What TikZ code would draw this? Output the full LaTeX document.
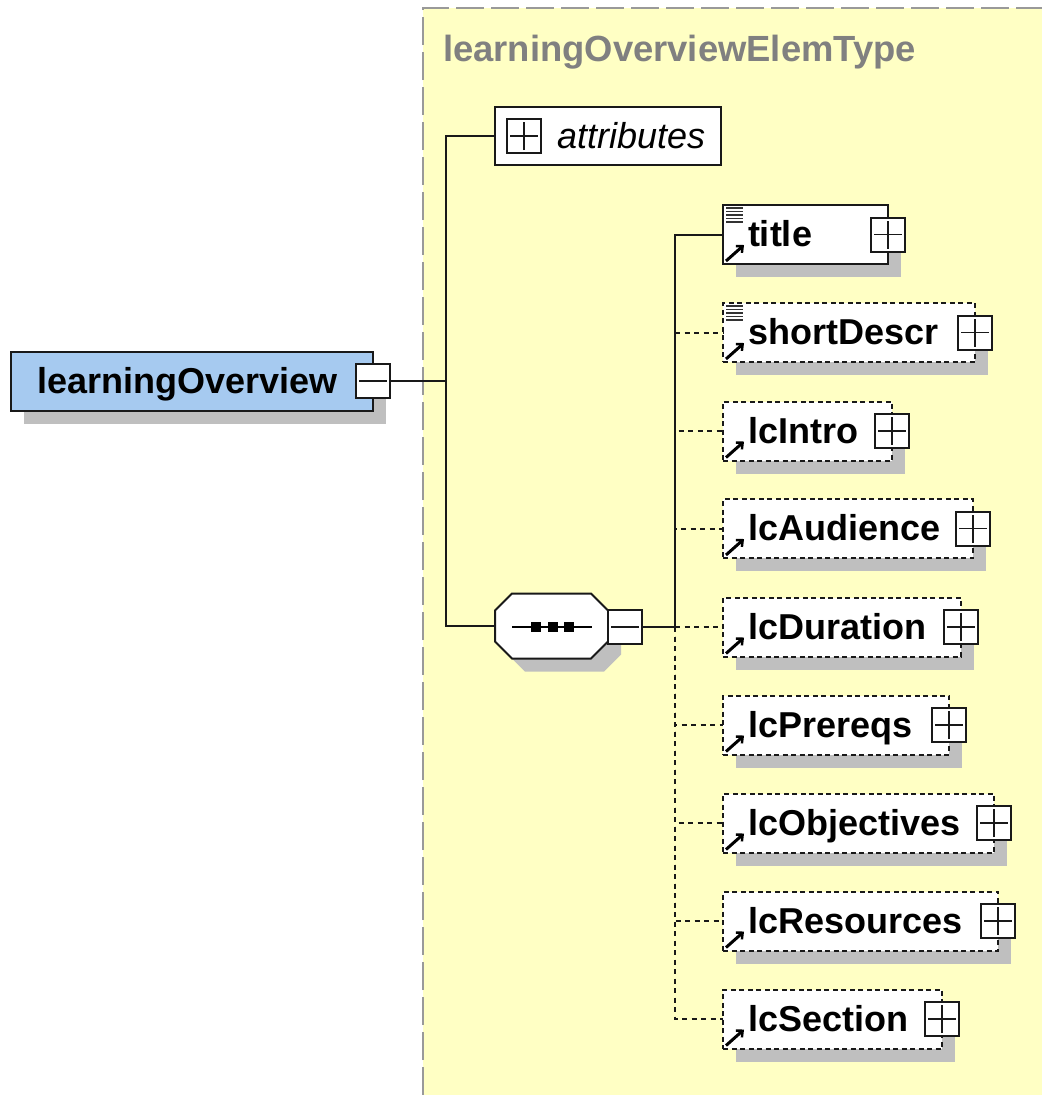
\documentclass[tikz,border=0pt]{standalone}
\usepackage{fontspec}
\setmainfont{Liberation Sans}
\usetikzlibrary{arrows.meta}
\definecolor{frameyellow}{HTML}{FFFFC4}
\definecolor{shadowgray}{HTML}{BFBFBF}
\definecolor{rootblue}{HTML}{A6CAF0}
\definecolor{framegray}{HTML}{999999}
\definecolor{titlegray}{HTML}{808080}
\tikzset{
  wire/.style={line width=2pt,draw=black!90},
  dashwire/.style={wire,dash pattern=on 5pt off 4.5pt},
  elembox/.style={rectangle,draw=black!90,line width=2pt,fill=white,inner sep=0pt,outer sep=0pt,minimum height=59pt,font=\fontsize{36}{36}\selectfont\bfseries},
  optional/.style={dash pattern=on 5pt off 3.5pt},
  shadowbox/.style={rectangle,fill=shadowgray,inner sep=0pt,outer sep=0pt,minimum height=59pt},
  expander/.style={rectangle,draw=black!90,line width=2pt,fill=white,inner sep=0pt,outer sep=0pt,minimum size=34pt},
  minus/.style={expander,path picture={\draw[line width=1.4pt] (path picture bounding box.center) +(-14pt,0pt) -- +(14pt,0pt);}},
  plus/.style={expander,path picture={\draw[line width=1.4pt] (path picture bounding box.center) +(-14pt,0pt) -- +(14pt,0pt) (path picture bounding box.center) +(0pt,-14pt) -- +(0pt,14pt);}},
  seqanchor/.style={rectangle,inner sep=0pt,outer sep=0pt,minimum width=113pt,minimum height=65pt},
  refarrow/.style={line width=3pt,-{Straight Barb[length=5pt,width=9pt,line width=2.4pt]}},
  docline/.style={line width=1.6pt,draw=black!80},
  dot/.style={rectangle,fill=black,inner sep=0pt,minimum size=10pt}
}
% name, label, right edge, centre y, extra box style
\newcommand\elemnode[5]{%
  \node[shadowbox,minimum width={(#3-723)*1pt}] at ({(#3+723)/2+13},#4+13) {};
  \node[elembox,#5,minimum width={(#3-723)*1pt}] (#1) at ({(#3+723)/2},#4)
    {\makebox[\dimexpr #3pt-723pt\relax][l]{\hspace{25pt}\rule[-8pt]{0pt}{40pt}#2}};
  \node[plus] (#1exp) at (#1.east) {};
  \draw[refarrow] ([shift={(3,56)}]#1.north west) -- ([shift={(21,40)}]#1.north west);
}
\newcommand\docmark[1]{%
  \foreach \k in {3,6.5,10,13.5,17}
    \draw[docline] ([shift={(3,\k)}]#1.north west) -- ([shift={(20,\k)}]#1.north west);
}
% octagon around a centre
\newcommand\octa[1]{(#1) ++(-56.5,-15.5) -- ++(17,-17) -- ++(79,0) -- ++(17,17) -- ++(0,31) -- ++(-17,17) -- ++(-79,0) -- ++(-17,-17) -- cycle}
\begin{document}
\begin{tikzpicture}[x=1pt,y=-1pt]
\useasboundingbox (0,0) rectangle (1042,1095);
% type frame
\fill[frameyellow] (423,8) rectangle (1042,1095);
\draw[framegray,line width=2pt,dash pattern=on 28pt off 7pt] (423,1095) -- (423,8) -- (1042,8);
\node[anchor=base west,inner sep=0pt,text=titlegray,font=\fontsize{36.4}{36}\selectfont\bfseries] (typename) at (443,61) {learningOverviewElemType};
% root
\node[shadowbox,minimum width=362pt] at (205,394) {};
\node[elembox,fill=rootblue,minimum width=362pt] (root) at (192,381)
  {\makebox[362pt][l]{\hspace{26pt}\rule[-8pt]{0pt}{40pt}learningOverview}};
\node[minus] (rootexp) at (root.east) {};
% attributes
\node[elembox,minimum width=226pt,minimum height=58pt,font=\fontsize{36}{36}\selectfont\itshape] (attr) at (608,136)
  {\makebox[226pt][l]{\hspace{62pt}\rule[-8pt]{0pt}{40pt}attributes}};
\node[plus] (attrexp) at (524,136) {};
% sequence
\coordinate (seqshadow) at (564.5,639);
\fill[shadowgray] \octa{seqshadow};
\node[seqanchor] (seq) at (551.5,626) {};
\filldraw[fill=white,draw=black!90,line width=2pt,line join=miter] \octa{seq.center};
\node[minus] (seqexp) at (625,627) {};
\coordinate (seqin) at (512,627);
\coordinate (seqout) at (592,627);
\draw[line width=1.8pt] (seqin) -- (seqout);
\node[dot] (d1) at (536,627) {};
\node[dot] (d2) at (553,627) {};
\node[dot] (d3) at (569,627) {};
% elements
\elemnode{title}{title}{888}{234.5}{}
\docmark{title}
\elemnode{short}{shortDescr}{975}{332.5}{optional}
\docmark{short}
\elemnode{intro}{lcIntro}{892}{431}{optional}
\elemnode{aud}{lcAudience}{973}{528.5}{optional}
\elemnode{dur}{lcDuration}{961}{627}{optional}
\elemnode{pre}{lcPrereqs}{949}{725}{optional}
\elemnode{obj}{lcObjectives}{994}{823}{optional}
\elemnode{res}{lcResources}{998}{921}{optional}
\elemnode{sec}{lcSection}{942}{1019}{optional}
% connectors
\coordinate (hubA) at (446,381);
\coordinate (hubB) at (675,627);
\draw[wire] (rootexp.east) -- (hubA);
\draw[wire] (hubA) |- (attr.west);
\draw[wire] (hubA) |- (seq.west);
\draw[wire] (seqexp.east) -- (hubB);
\draw[wire] (hubB) |- (title.west);
\foreach \n in {short,intro,aud,pre,obj,res,sec}
  \draw[dashwire] (hubB) |- (\n.west);
\draw[dashwire] (hubB) -- (dur.west);
\end{tikzpicture}
\end{document}
